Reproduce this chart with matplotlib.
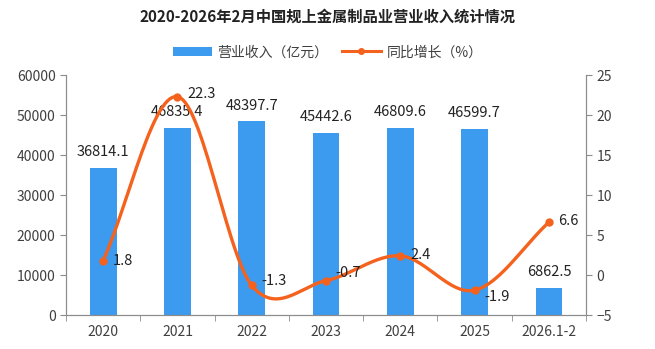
import matplotlib.pyplot as plt
import numpy as np

plt.rcParams['font.family'] = ['Noto Sans CJK SC', 'DejaVu Sans']

# 数据
years = ["2020", "2021", "2022", "2023", "2024", "2025", "2026.1-2"]
revenue = [36814.1, 46835.4, 48397.7, 45442.6, 46809.6, 46599.7, 6862.5]
growth = [1.8, 22.3, -1.3, -0.7, 2.4, -1.9, 6.6]

bar_color = '#3D9BEF'
line_color = '#F4621E'
axis_color = '#8C8C8C'
text_color = '#404040'


def smooth(xs, ys, n=30):
    # Catmull-Rom 平滑曲线 (仅用于绘制)
    xs = np.asarray(xs, float)
    ys = np.asarray(ys, float)
    px = np.concatenate([[2 * xs[0] - xs[1]], xs, [2 * xs[-1] - xs[-2]]])
    py = np.concatenate([[2 * ys[0] - ys[1]], ys, [2 * ys[-1] - ys[-2]]])
    outx, outy = [], []
    t = np.linspace(0, 1, n)
    for i in range(1, len(px) - 2):
        for p, out in ((px, outx), (py, outy)):
            p0, p1, p2, p3 = p[i - 1], p[i], p[i + 1], p[i + 2]
            out.extend(0.5 * (2 * p1 + (-p0 + p2) * t
                              + (2 * p0 - 5 * p1 + 4 * p2 - p3) * t ** 2
                              + (-p0 + 3 * p1 - 3 * p2 + p3) * t ** 3))
    return np.array(outx), np.array(outy)


fig = plt.figure(figsize=(6.55, 3.49), dpi=100)
ax = fig.add_axes([0.1008, 0.0974, 0.7939, 0.6876])
ax2 = ax.twinx()

x = np.arange(len(years))
bars = ax.bar(x, revenue, width=0.36, color=bar_color, label='营业收入（亿元）', zorder=2)
sx, sy = smooth(x, growth)
ax2.plot(sx, sy, color=line_color, lw=2.4, zorder=3)
ax2.plot(x, growth, 'o', color=line_color, ms=5, zorder=4)
line_handle, = ax.plot([], [], color=line_color, lw=2.2, marker='o', ms=4, label='同比增长（%）')

ax.set_xlim(-0.5, len(years) - 0.5)
ax.set_ylim(0, 60000)
ax.set_yticks(np.arange(0, 60001, 10000))
ax2.set_ylim(-5, 25)
ax2.set_yticks(np.arange(-5, 26, 5))

ax.set_xticks(x)
ax.set_xticklabels(years)
ax.set_xticks(np.arange(-0.5, len(years), 1), minor=True)
ax.tick_params(axis='x', which='major', length=0, pad=7)
ax.tick_params(axis='x', which='minor', length=4, color=axis_color)

for a in (ax, ax2):
    a.tick_params(axis='y', length=4, color=axis_color, labelsize=10, labelcolor=text_color)
    a.tick_params(axis='x', labelsize=10, labelcolor=text_color)
    for s in a.spines.values():
        s.set_color(axis_color)
    a.spines['top'].set_visible(False)

# 数据标签
for xi, v in zip(x, revenue):
    ax.text(xi, v + 2200, f"{v:.1f}", ha='center', va='bottom', fontsize=10.5, color='#222222')
offsets = [(0.13, 0), (0.14, 0.3), (0.13, 0.6), (0.13, 0.9), (0.13, 0.1), (0.13, -0.8), (0.13, 0.1)]
for xi, g, (dx, dy) in zip(x, growth, offsets):
    ax2.text(xi + dx, g + dy, f"{g}", ha='left', va='center', fontsize=10.5, color='#222222', zorder=5)

fig.suptitle('2020-2026年2月中国规上金属制品业营业收入统计情况', x=0.5, y=0.975,
             fontsize=11, fontweight='bold', color='#222222')
fig.legend(handles=[bars, line_handle], loc='center', bbox_to_anchor=(0.5, 0.85), ncol=2,
           frameon=False, fontsize=10, handlelength=2.8, columnspacing=1.0, handletextpad=0.4,
           labelcolor=text_color)

fig.savefig('out.png', dpi=100)
